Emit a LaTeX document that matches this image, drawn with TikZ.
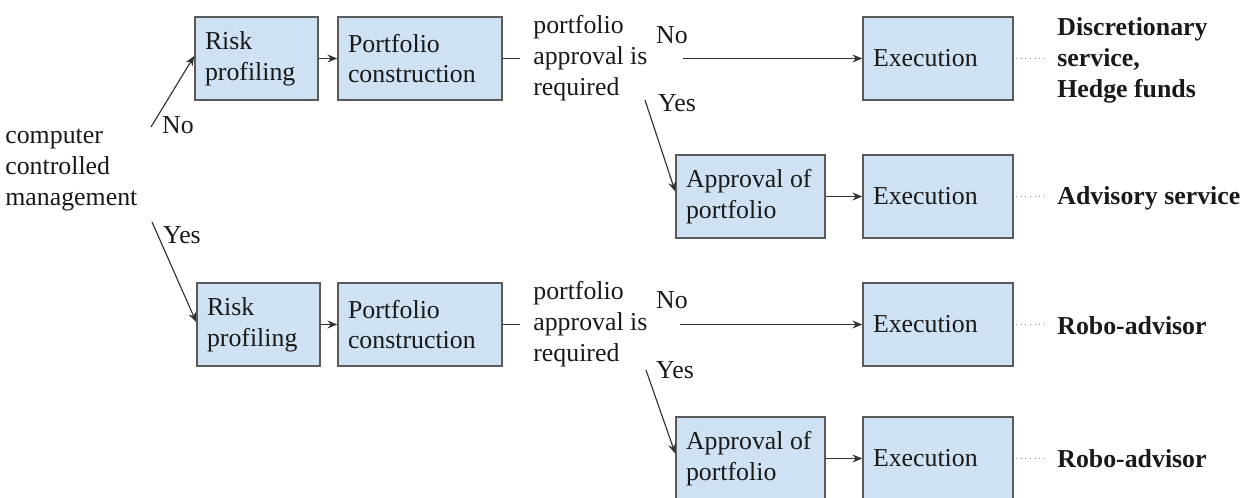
\documentclass[tikz,border=0pt]{standalone}
\usepackage{fontspec}
\setmainfont{Liberation Serif}
\usetikzlibrary{arrows.meta, positioning, calc}
\definecolor{boxfill}{RGB}{207,226,243}
\definecolor{boxline}{RGB}{90,90,90}
\definecolor{wire}{RGB}{50,50,50}

\begin{document}
\begin{tikzpicture}[
  x=1cm,y=1cm,
  every node/.style={font=\fontsize{14.7pt}{17.6pt}\selectfont, text=black!90},
  stage/.style={
    rectangle, line width=0.9pt,
    draw=boxline, fill=boxfill,
    text width=#1, minimum height=1.66cm,
    inner xsep=0.2cm, align=flush left
  },
  question/.style={inner sep=0.26cm, align=left, anchor=west},
  outcome/.style={inner sep=0.2cm, align=left, anchor=west,
    font=\fontsize{14.7pt}{17.6pt}\selectfont\bfseries},
  choice/.style={inner sep=1pt},
  link/.style={-{Stealth[length=5.5pt,width=4.5pt]}, draw=wire, line width=0.65pt},
  plain/.style={draw=wire, line width=0.65pt},
  leader/.style={dotted, draw=gray!80, line width=0.6pt}
]
\useasboundingbox (0,0) rectangle (25.2,-9.96);

% ---- Root decision on the left ----
\node[align=left, anchor=west, inner sep=0.1cm] (root) at (0,-3.4)
  {computer\\controlled\\management};
\coordinate (rootNo)  at (3.02,-2.54);
\coordinate (rootYes) at (3.04,-4.44);
\node[choice] (lblNo)  at (3.56,-2.5) {No};
\node[choice] (lblYes) at (3.64,-4.7) {Yes};

% ---- Upper branch (human controlled) ----
\node[stage=2.06cm] (rp1) at (5.13,-1.17) {Risk\\profiling};
\node[stage=2.88cm] (pc1) at (8.40,-1.17) {Portfolio\\construction};
\node[question] (q1) at (10.4,-1.17) {portfolio\\approval is\\required};
\node[stage=2.60cm] (ex1) at (18.76,-1.17) {Execution};
\node[stage=2.58cm] (ap1) at (15.01,-3.93) {Approval of\\portfolio};
\node[stage=2.60cm] (ex2) at (18.76,-3.93) {Execution};

\coordinate (q1No)  at (13.66,-1.17);
\coordinate (q1Yes) at (12.90,-2.0);
\node[choice] (q1lblNo)  at (13.44,-0.7) {No};
\node[choice] (q1lblYes) at (13.54,-2.06) {Yes};

\node[outcome] (out1) at (20.94,-1.2) {Discretionary\\service,\\Hedge funds};
\node[outcome] (out2) at (20.94,-3.96) {Advisory service};

% ---- Lower branch (computer controlled) ----
\node[stage=2.06cm] (rp2) at (5.17,-6.49) {Risk\\profiling};
\node[stage=2.88cm] (pc2) at (8.40,-6.49) {Portfolio\\construction};
\node[question] (q2) at (10.4,-6.49) {portfolio\\approval is\\required};
\node[stage=2.60cm] (ex3) at (18.76,-6.49) {Execution};
\node[stage=2.58cm] (ap2) at (15.01,-9.17) {Approval of\\portfolio};
\node[stage=2.60cm] (ex4) at (18.76,-9.17) {Execution};

\coordinate (q2No)  at (13.60,-6.49);
\coordinate (q2Yes) at (12.92,-7.4);
\node[choice] (q2lblNo)  at (13.44,-6.0) {No};
\node[choice] (q2lblYes) at (13.50,-7.4) {Yes};

\node[outcome] (out3) at (20.94,-6.52) {Robo-advisor};
\node[outcome] (out4) at (20.94,-9.18) {Robo-advisor};

% ---- Connectors ----
\draw[link] (rootNo) -- ($(rp1.west)+(0,0.05)$);
\draw[link] (rootYes) -- ($(rp2.west)+(0,0.05)$);

\foreach \r/\p/\q in {rp1/pc1/q1, rp2/pc2/q2} {
  \draw[link] (\r) -- (\p);
  \draw[plain] (\p) -- (\q.west);
}

\draw[link] (q1No) -- (ex1.west);
\draw[link] (q1Yes) -- ($(ap1.west)+(0,0.1)$);
\draw[link] (q2No) -- (ex3.west);
\draw[link] (q2Yes) -- ($(ap2.west)+(0,0.1)$);
\draw[link] (ap1) -- (ex2);
\draw[link] (ap2) -- (ex4);

% ---- Dotted leaders to service types ----
\foreach \e/\o in {ex1/out1, ex2/out2, ex3/out3, ex4/out4} {
  \draw[leader] ($(\e.east)+(0.05,0)$) -- (\o.west |- \e.east);
}

\end{tikzpicture}
\end{document}
